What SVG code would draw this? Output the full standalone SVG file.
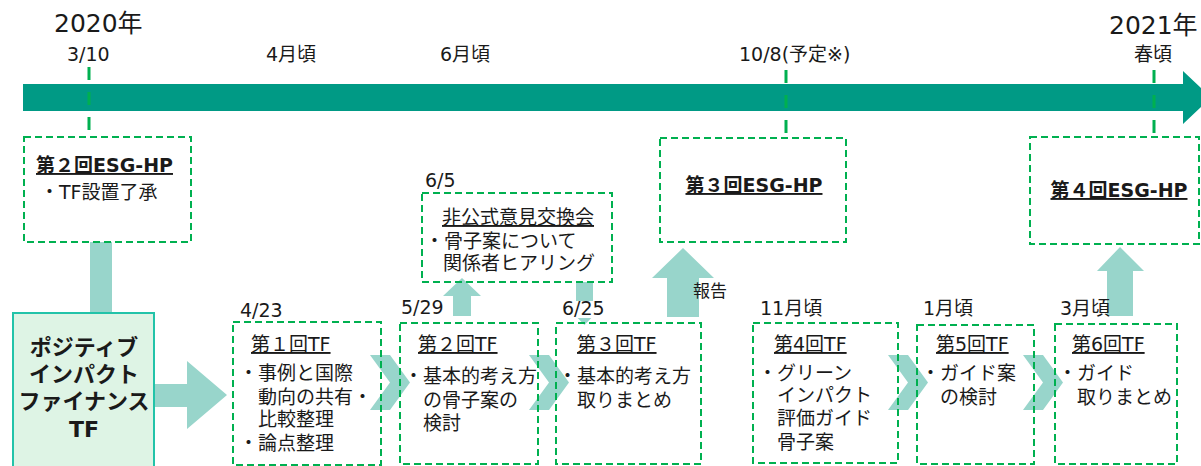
<svg xmlns="http://www.w3.org/2000/svg" width="1201" height="466" viewBox="0 0 1201 466">
<style>
text{font-family:"DejaVu Sans","Noto Sans CJK JP",sans-serif;fill:#1a1a1a;font-size:19px}
.big{font-size:25px}
.b{font-weight:bold}
.u{text-decoration:underline}
.box{fill:none;stroke:#00B050;stroke-width:2;stroke-dasharray:7 4}
.vl{stroke:#00B050;stroke-width:3;stroke-dasharray:13 12}
.arr{fill:#98D5CB}
.tf{font-size:22px;font-weight:bold;text-anchor:middle}
.mid{text-anchor:middle}
</style>
<rect width="1201" height="466" fill="#ffffff"/>

<g id="timeline">
<polygon points="23,84 1183,84 1183,71 1211,97.5 1183,124 1183,111 23,111" fill="#009A85"/>
<text x="54" y="32" class="big">2020年</text>
<text x="1109" y="34" class="big">2021年</text>
<text x="67" y="61">3/10</text>
<text x="266" y="61">4月頃</text>
<text x="440" y="61">6月頃</text>
<text x="739" y="61">10/8(予定※)</text>
<text x="1134" y="61">春頃</text>
</g>

<g id="connectors">
<line class="vl" x1="89" y1="67" x2="89" y2="131"/>
<line class="vl" x1="786" y1="70" x2="786" y2="135"/>
<line class="vl" x1="1154" y1="70" x2="1154" y2="135"/>
<rect class="arr" x="90" y="242" width="22" height="71"/>
<polygon class="arr" points="154,384 187,384 187,361 227,395 187,429 187,407 154,407"/>
<polygon class="arr" points="370,355 390,355 410,382.5 390,410 370,410 390,382.5"/>
<polygon class="arr" points="529,355 549,355 569,382.5 549,410 529,410 549,382.5"/>
<polygon class="arr" points="888,355 908,355 928,382.5 908,410 888,410 908,382.5"/>
<polygon class="arr" points="1023,355 1043,355 1063,382.5 1043,410 1023,410 1043,382.5"/>
<polygon class="arr" points="453,316 453,296 443,296 462,278 481,296 471,296 471,316"/>
<polygon class="arr" points="576,282 593,282 593,307 602,307 584.5,325 567,307 576,307"/>
<polygon class="arr" points="667,317 667,278 652,278 683,248 714,278 699,278 699,317"/>
<polygon class="arr" points="1107,316 1107,271 1097,271 1120,247 1144,271 1133,271 1133,316"/>
<text x="693" y="297" style="font-size:17px">報告</text>
</g>

<g id="esg2">
<rect class="box" x="24" y="137" width="167" height="105"/>
<text x="36" y="172" class="b u">第２回ESG-HP</text>
<text x="40" y="199">・TF設置了承</text>
</g>

<g id="informal">
<text x="425" y="187">6/5</text>
<rect class="box" x="422" y="193" width="190" height="89"/>
<text x="442" y="224" class="u">非公式意見交換会</text>
<text x="425" y="248">・骨子案について</text>
<text x="443" y="270">関係者ヒアリング</text>
</g>

<g id="esg3">
<rect class="box" x="660" y="138" width="186" height="104"/>
<text x="754" y="192" class="b u mid">第３回ESG-HP</text>
</g>

<g id="esg4">
<rect class="box" x="1030" y="137" width="169" height="107"/>
<text x="1119" y="197" class="b u mid">第４回ESG-HP</text>
</g>

<g id="tf">
<rect x="13" y="313" width="141" height="160" fill="#DEF4E5" stroke="#22C3A9" stroke-width="2"/>
<text x="84" y="355" class="tf">ポジティブ</text>
<text x="84" y="382" class="tf">インパクト</text>
<text x="84" y="409" class="tf">ファイナンス</text>
<text x="84" y="437" class="tf">TF</text>
</g>

<g id="tf1">
<text x="240" y="317">4/23</text>
<rect class="box" x="233" y="322" width="148" height="143"/>
<text x="251" y="351" class="u">第１回TF</text>
<text x="239" y="380">・事例と国際</text>
<text x="258" y="404">動向の共有・</text>
<text x="258" y="426">比較整理</text>
<text x="239" y="450">・論点整理</text>
</g>

<g id="tf2">
<text x="401" y="314">5/29</text>
<rect class="box" x="400" y="323" width="138" height="141"/>
<text x="418" y="351" class="u">第２回TF</text>
<text x="404" y="383">・基本的考え方</text>
<text x="423" y="407">の骨子案の</text>
<text x="423" y="430">検討</text>
</g>

<g id="tf3">
<rect x="559" y="301" width="48" height="17" fill="#ffffff"/>
<text x="562" y="315">6/25</text>
<rect class="box" x="556" y="323" width="145" height="141"/>
<text x="577" y="351" class="u">第３回TF</text>
<text x="558" y="383">・基本的考え方</text>
<text x="577" y="407">取りまとめ</text>
</g>

<g id="tf4">
<text x="760" y="315">11月頃</text>
<rect class="box" x="753" y="323" width="145" height="140"/>
<text x="774" y="351" class="u">第4回TF</text>
<text x="758" y="380">・グリーン</text>
<text x="777" y="402">インパクト</text>
<text x="777" y="425">評価ガイド</text>
<text x="777" y="449">骨子案</text>
</g>

<g id="tf5">
<text x="923" y="315">1月頃</text>
<rect class="box" x="917" y="325" width="117" height="139"/>
<text x="936" y="351" class="u">第5回TF</text>
<text x="921" y="380">・ガイド案</text>
<text x="940" y="404">の検討</text>
</g>

<g id="tf6">
<text x="1060" y="315">3月頃</text>
<rect class="box" x="1055" y="324" width="122" height="140"/>
<text x="1072" y="351" class="u">第6回TF</text>
<text x="1058" y="380">・ガイド</text>
<text x="1077" y="404">取りまとめ</text>
</g>
</svg>
